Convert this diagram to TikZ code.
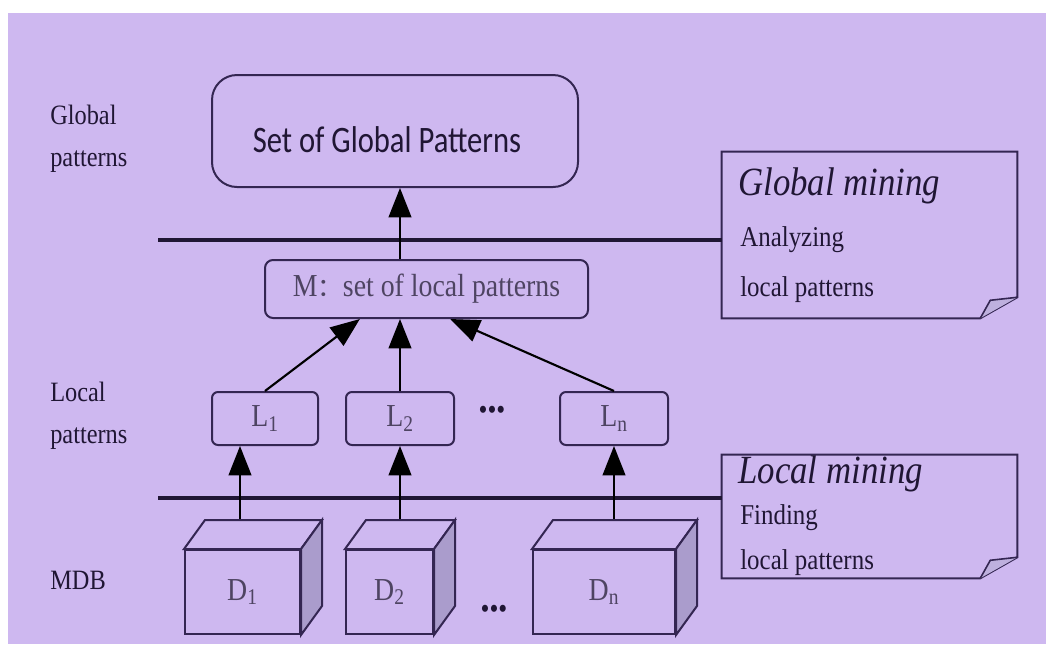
\documentclass[tikz,border=0pt]{standalone}
\usepackage{fontspec}
\setmainfont{Liberation Serif}[FakeStretch=0.87]
\newfontfamily\calib{Carlito}[FakeStretch=0.82]
\newfontfamily\cjk{Noto Sans CJK SC}
\usetikzlibrary{arrows.meta,calc}
\definecolor{bgc}{RGB}{206,184,240}
\definecolor{ink}{RGB}{32,22,52}
\definecolor{edge}{RGB}{52,38,82}
\definecolor{grayt}{RGB}{78,68,98}
\definecolor{side}{RGB}{170,156,204}
\definecolor{foldc}{RGB}{190,176,222}
\begin{document}
\begin{tikzpicture}[x=0.75pt,y=-0.75pt,
 box/.style={draw=edge, line width=1.5pt, inner sep=0pt},
 arr/.style={draw=black, line width=1.6pt, -{Triangle[width=17pt,length=22pt]}},
 rule/.style={draw=ink, line width=2.4pt},
 lab/.style={font=\fontsize{21}{31.5}\selectfont, text=ink, align=left, anchor=west, inner sep=0pt},
 notetitle/.style={font=\fontsize{30}{34}\selectfont\itshape, text=ink, anchor=west, inner sep=0pt},
 notebody/.style={font=\fontsize{21.5}{26}\selectfont, text=ink, anchor=west, inner sep=0pt},
 lbox/.style={box, rounded corners=4.5pt, minimum height=39.75pt, font=\fontsize{24}{28}\selectfont, text=grayt},
 dbox/.style={box, fill=bgc, minimum height=63pt, font=\fontsize{24}{28}\selectfont, text=grayt},
 dots/.style={font=\fontsize{22}{24}\selectfont, text=ink, inner sep=0pt}
]
\useasboundingbox (0,0) rectangle (1046,644);
\fill[white] (0,0) rectangle (1046,644);
\fill[bgc] (8,13) rectangle (1046,644);

% note boxes
\node[minimum width=221.25pt, minimum height=124.5pt, inner sep=0pt] (GN) at (869.5,235) {};
\draw[box, fill=bgc] (GN.north west) -- (GN.north east) -- ($(GN.south east)+(0,-21)$) -- ($(GN.south east)+(-37,0)$) -- (GN.south west) -- cycle;
\draw[box, line width=1.2pt, fill=foldc] ($(GN.south east)+(0,-21)$) -- ($(GN.south east)+(-27,-18)$) -- ($(GN.south east)+(-37,0)$);
\node[notetitle] (GNt) at (738,186) {Global mining};
\node[notebody] (GNa) at (740,240) {Analyzing};
\node[notebody] (GNb) at (740,290) {local patterns};

\node[minimum width=221.25pt, minimum height=92.25pt, inner sep=0pt] (LN) at (869.5,516.5) {};
\draw[box, fill=bgc] (LN.north west) -- (LN.north east) -- ($(LN.south east)+(0,-21)$) -- ($(LN.south east)+(-37,0)$) -- (LN.south west) -- cycle;
\draw[box, line width=1.2pt, fill=foldc] ($(LN.south east)+(0,-21)$) -- ($(LN.south east)+(-27,-18)$) -- ($(LN.south east)+(-37,0)$);
\node[notetitle] (LNt) at (738,474) {Local mining};
\node[notebody] (LNa) at (740,518) {Finding};
\node[notebody] (LNb) at (740,563) {local patterns};

% rules
\coordinate (r1) at (158,240);
\draw[rule] (r1) -- (r1 -| GN.west);
\coordinate (r2) at (158,498);
\draw[rule] (r2) -- (r2 -| LN.west);

% left labels
\node[lab] (gl) at (50,139) {Global\\patterns};
\node[lab] (ll) at (50,416) {Local\\patterns};
\node[lab] (ml) at (50,580) {MDB};

% global box
\node[box, rounded corners=18.75pt, minimum width=274.5pt, minimum height=84pt,
      label={[font=\calib\fontsize{28}{32}\selectfont, text=ink, inner sep=0pt, yshift=-6.5pt, xshift=-6pt]center:Set of Global Patterns}] (G) at (395,131) {};
% M box
\node[box, rounded corners=6pt, minimum width=242.25pt, minimum height=43.5pt,
      font=\fontsize{24}{28}\selectfont, text=grayt] (M) at (426.5,289) {M{\cjk\fontsize{19}{22}\selectfont ：}set of local patterns};

% L boxes
\node[lbox, minimum width=79.5pt] (L1) at (265,418.5) {L\textsubscript{1}};
\node[lbox, minimum width=81pt] (L2) at (400,418.5) {L\textsubscript{2}};
\node[lbox, minimum width=81pt] (Ln) at (614,418.5) {L\textsubscript{n}};
\node[dots] (ldots) at (492,413) {•••};

% D boxes
\node[dbox, minimum width=86.25pt] (D1) at (242.5,592) {\raisebox{3pt}{D\textsubscript{1}}};
\draw[box, fill=bgc] (D1.north west) -- ++(21,-29) -- ($(D1.north east)+(21,-29)$) -- (D1.north east) -- cycle;
\draw[box, fill=side] (D1.north east) -- ++(21,-29) -- ($(D1.south east)+(21,-29)$) -- (D1.south east) -- cycle;
\node[dbox, minimum width=65.25pt] (D2) at (389.5,592) {\raisebox{3pt}{D\textsubscript{2}}};
\draw[box, fill=bgc] (D2.north west) -- ++(21,-29) -- ($(D2.north east)+(21,-29)$) -- (D2.north east) -- cycle;
\draw[box, fill=side] (D2.north east) -- ++(21,-29) -- ($(D2.south east)+(21,-29)$) -- (D2.south east) -- cycle;
\node[dbox, minimum width=106.5pt] (Dn) at (604,592) {\raisebox{3pt}{D\textsubscript{n}}};
\draw[box, fill=bgc] (Dn.north west) -- ++(21,-29) -- ($(Dn.north east)+(21,-29)$) -- (Dn.north east) -- cycle;
\draw[box, fill=side] (Dn.north east) -- ++(21,-29) -- ($(Dn.south east)+(21,-29)$) -- (Dn.south east) -- cycle;
\node[dots] (ddots) at (494,612) {•••};

% arrows D -> L
\coordinate (a1) at (240,519);
\draw[arr] (a1) -- (a1 |- L1.south);
\coordinate (a2) at (400,519);
\draw[arr] (a2) -- (a2 |- L2.south);
\coordinate (a3) at (614,519);
\draw[arr] (a3) -- (a3 |- Ln.south);

% arrows L -> M
\draw[arr] (L1.north) -- ($(M.south west)!0.295!(M.south east)$);
\draw[arr] (L2.north) -- (L2.north |- M.south);
\draw[arr] (Ln.north) -- ($(M.south west)!0.573!(M.south east)$);

% arrow M -> G
\draw[arr] (L2.north |- M.north) -- (L2.north |- G.south);
\end{tikzpicture}
\end{document}
